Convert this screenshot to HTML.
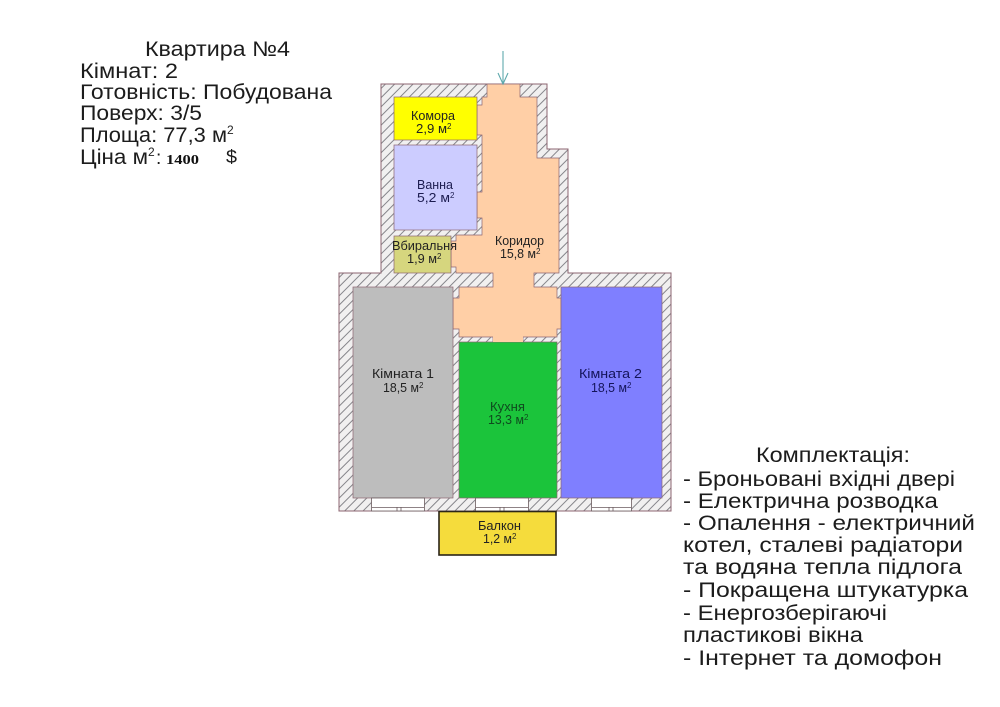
<!DOCTYPE html>
<html><head><meta charset="utf-8"><style>
html,body{margin:0;padding:0;background:#fff}
svg{display:block}
text{font-family:"Liberation Sans","DejaVu Sans",sans-serif;fill:#222}
.b{font-size:21px;fill:#1c1c1c}
.s{font-size:12.5px}
.u{font-size:8px}
</style></head><body>
<svg width="1000" height="707" viewBox="0 0 1000 707" xmlns="http://www.w3.org/2000/svg">
<defs>
<pattern id="h" width="6.5" height="6.5" patternUnits="userSpaceOnUse" patternTransform="rotate(45)">
<rect width="6.5" height="6.5" fill="#f1f0f0"/>
<rect x="0" y="0" width="1" height="6.5" fill="#85858a"/>
</pattern>
</defs>
<rect width="1000" height="707" fill="#fff"/>

<!-- walls -->
<polygon points="381,84 547,84 547,149 568,149 568,273 671,273 671,511 339,511 339,273 381,273" fill="url(#h)" stroke="#8c6470" stroke-width="1"/>

<!-- corridor -->
<polygon points="487,84 520,84 520,97 537,97 537,158 559,158 559,273 534,273 534,287 557,287 557,298 561,298 561,329 557,329 557,337 523,337 523,342 493,342 493,337 459,337 459,329 453,329 453,298 459,298 459,287 493,287 493,273 456,273 456,267 451,267 451,241 456,241 456,235 482,235 482,218 477,218 477,192 482,192 482,135 477,135 477,105 482,105 482,97 487,97" fill="#ffcfa6" stroke="#8c6470" stroke-width="0.7"/>

<!-- rooms -->
<g stroke="#8c6470" stroke-width="0.7">
<rect x="394" y="97" width="83" height="43" fill="#ffff00"/>
<rect x="394" y="145" width="83" height="85" fill="#ccccff"/>
<rect x="394" y="236" width="57" height="37" fill="#d6d67e"/>
<rect x="353" y="287" width="100" height="211" fill="#bdbdbd"/>
<rect x="459" y="342" width="98" height="156" fill="#1bc43b"/>
<rect x="561" y="287" width="101" height="211" fill="#7f7fff"/>
</g>
<rect x="493" y="336" width="30" height="6" fill="#ffcfa6"/>

<!-- windows -->
<g fill="#fff" stroke="#6a5a5e" stroke-width="0.8">
<rect x="371.500" y="498" width="53" height="13"/>
<rect x="475.500" y="498" width="53" height="13"/>
<rect x="591.500" y="498" width="40" height="13"/>
<line x1="372" y1="507.500" x2="424" y2="507.500"/>
<line x1="476" y1="507.500" x2="528" y2="507.500"/>
<line x1="592" y1="507.500" x2="631" y2="507.500"/>
<line x1="397" y1="507" x2="397" y2="511"/>
<line x1="401" y1="507" x2="401" y2="511"/>
<line x1="500" y1="507" x2="500" y2="511"/>
<line x1="504" y1="507" x2="504" y2="511"/>
<line x1="609" y1="507" x2="609" y2="511"/>
<line x1="613" y1="507" x2="613" y2="511"/>
</g>

<!-- balcony -->
<rect x="439" y="511.500" width="117" height="43.500" fill="#f5dc3c" stroke="#2a2418" stroke-width="1.600"/>

<!-- entry arrow -->
<g stroke="#5fa9ad" stroke-width="1.100" fill="none">
<line x1="503" y1="51" x2="503" y2="84"/>
<polyline points="498,73 503,84 508,73"/>
</g>

<!-- room labels -->
<g class="s">
<text class="s" x="411" y="120" textLength="44" lengthAdjust="spacingAndGlyphs">Комора</text>
<text class="s" x="416" y="133" textLength="31" lengthAdjust="spacingAndGlyphs">2,9 м</text><text class="u" x="447" y="129">2</text>
<text class="s" x="417" y="189" textLength="36" lengthAdjust="spacingAndGlyphs" style="fill:#1c1c50">Ванна</text>
<text class="s" x="417" y="202" textLength="33" lengthAdjust="spacingAndGlyphs" style="fill:#1c1c50">5,2 м</text><text class="u" x="450" y="198" style="fill:#1c1c50">2</text>
<text class="s" x="392" y="250" textLength="65" lengthAdjust="spacingAndGlyphs">Вбиральня</text>
<text class="s" x="407" y="263" textLength="30" lengthAdjust="spacingAndGlyphs">1,9 м</text><text class="u" x="437" y="259">2</text>
<text class="s" x="495" y="245" textLength="49" lengthAdjust="spacingAndGlyphs">Коридор</text>
<text class="s" x="500" y="258" textLength="36" lengthAdjust="spacingAndGlyphs">15,8 м</text><text class="u" x="536" y="254">2</text>
<text class="s" x="372" y="378" textLength="62" lengthAdjust="spacingAndGlyphs">Кімната 1</text>
<text class="s" x="383" y="392" textLength="36" lengthAdjust="spacingAndGlyphs">18,5 м</text><text class="u" x="419" y="388">2</text>
<text class="s" x="579" y="378" textLength="63" lengthAdjust="spacingAndGlyphs" style="fill:#14145a">Кімната 2</text>
<text class="s" x="591" y="392" textLength="36" lengthAdjust="spacingAndGlyphs" style="fill:#14145a">18,5 м</text><text class="u" x="627" y="388" style="fill:#14145a">2</text>
<text class="s" x="490" y="411" textLength="35" lengthAdjust="spacingAndGlyphs" style="fill:#0f4a1e">Кухня</text>
<text class="s" x="488" y="424" textLength="36" lengthAdjust="spacingAndGlyphs" style="fill:#0f4a1e">13,3 м</text><text class="u" x="524" y="420" style="fill:#0f4a1e">2</text>
<text class="s" x="478" y="530" textLength="43" lengthAdjust="spacingAndGlyphs">Балкон</text>
<text class="s" x="483" y="543" textLength="29" lengthAdjust="spacingAndGlyphs">1,2 м</text><text class="u" x="512" y="539">2</text>
</g>

<!-- info block -->
<text class="b" x="145" y="56" textLength="145" lengthAdjust="spacingAndGlyphs">Квартира №4</text>
<text class="b" x="80" y="78" textLength="98" lengthAdjust="spacingAndGlyphs">Кімнат: 2</text>
<text class="b" x="80" y="99" textLength="252" lengthAdjust="spacingAndGlyphs">Готовність: Побудована</text>
<text class="b" x="80" y="120" textLength="122" lengthAdjust="spacingAndGlyphs">Поверх: 3/5</text>
<text class="b" x="80" y="142" textLength="147" lengthAdjust="spacingAndGlyphs">Площа: 77,3 м</text>
<text x="227" y="134" style="font-size:12px">2</text>
<text class="b" x="80" y="164" textLength="68" lengthAdjust="spacingAndGlyphs">Ціна м</text>
<text x="148" y="156" style="font-size:12px">2</text>
<text class="b" x="156" y="164" style="font-size:19px">:</text>
<text x="166" y="164" textLength="33" lengthAdjust="spacingAndGlyphs" style="font-family:'Liberation Serif',serif;font-weight:bold;font-size:14px;fill:#111">1400</text>
<text class="b" x="226" y="163" textLength="11" lengthAdjust="spacingAndGlyphs" style="font-size:18px">$</text>

<!-- equipment block -->
<text class="b" x="756" y="462" textLength="154" lengthAdjust="spacingAndGlyphs">Комплектація:</text>
<text class="b" x="683" y="486" textLength="272" lengthAdjust="spacingAndGlyphs">- Броньовані вхідні двері</text>
<text class="b" x="683" y="508" textLength="255" lengthAdjust="spacingAndGlyphs">- Електрична розводка</text>
<text class="b" x="683" y="530" textLength="292" lengthAdjust="spacingAndGlyphs">- Опалення - електричний</text>
<text class="b" x="683" y="552" textLength="280" lengthAdjust="spacingAndGlyphs">котел, сталеві радіатори</text>
<text class="b" x="683" y="574" textLength="279" lengthAdjust="spacingAndGlyphs">та водяна тепла підлога</text>
<text class="b" x="683" y="597" textLength="285" lengthAdjust="spacingAndGlyphs">- Покращена штукатурка</text>
<text class="b" x="683" y="620" textLength="204" lengthAdjust="spacingAndGlyphs">- Енергозберігаючі</text>
<text class="b" x="683" y="642" textLength="180" lengthAdjust="spacingAndGlyphs">пластикові вікна</text>
<text class="b" x="683" y="665" textLength="259" lengthAdjust="spacingAndGlyphs">- Інтернет та домофон</text>
</svg>
</body></html>
